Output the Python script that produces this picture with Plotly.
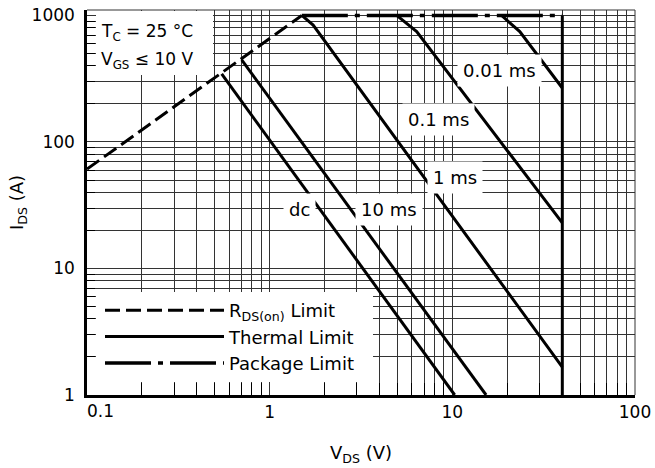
import plotly.graph_objects as go

# ---------------- data ----------------
rds_v = [0.1, 1.5]
rds_i = [61, 1000]

pkg_v = [1.5, 40]
pkg_i = [1000, 1000]

dc_v = [0.546, 10.3]
dc_i = [345, 1]

ms10_v = [0.703, 15.3]
ms10_i = [445, 1]

ms1_v = [1.5, 1.73, 40]
ms1_i = [1000, 840, 1.66]

ms01_v = [4.96, 6.38, 40]
ms01_i = [1000, 745, 22.9]

ms001_v = [18.6, 23.4, 40]
ms001_i = [1000, 745, 267]

bv_v = [40, 40]
bv_i = [1000, 1]

x_tickvals = [0.1, 1, 10, 100]
x_ticktext = ["", "1", "10", "100"]   # "0.1" is placed as a separate label, shifted right
first_x_label = "0.1"
y_tickvals = [1, 10, 100, 1000]
y_ticktext = ["1", "10", "100", "1000"]
x_minor = [0.2, 0.3, 0.4, 0.5, 0.6, 0.7, 0.8, 0.9,
           2, 3, 4, 5, 6, 7, 8, 9,
           20, 30, 40, 50, 60, 70, 80, 90]
y_minor = [2, 3, 4, 5, 6, 7, 8, 9,
           20, 30, 40, 50, 60, 70, 80, 90,
           200, 300, 400, 500, 600, 700, 800, 900]

curve_labels = ["0.01 ms", "0.1 ms", "1 ms", "10 ms", "dc"]
legend_names = ["R<sub>DS(on)</sub> Limit", "Thermal Limit", "Package Limit"]

# ---------------- layout helpers ----------------
W, H = 655, 468
L, R, T, B = 87, 635, 10, 395
FONT = "DejaVu Sans, Verdana, sans-serif"


def pxx(x):
    return (x - L) / (R - L)


def pxy(y):
    return (B - y) / (B - T)


LW = 3
fig = go.Figure()

fig.add_trace(go.Scatter(x=rds_v, y=rds_i, mode="lines", name=legend_names[0],
                         line=dict(color="black", width=LW, dash="15px,6px"),
                         legendrank=1))
thermal = [(dc_v, dc_i), (ms10_v, ms10_i), (ms1_v, ms1_i), (ms01_v, ms01_i),
           (ms001_v, ms001_i), (bv_v, bv_i)]
for k, (xv, yv) in enumerate(thermal):
    fig.add_trace(go.Scatter(x=xv, y=yv, mode="lines", name=legend_names[1],
                             line=dict(color="black", width=LW),
                             showlegend=(k == 0), legendrank=2))
fig.add_trace(go.Scatter(x=pkg_v, y=pkg_i, mode="lines", name=legend_names[2],
                         line=dict(color="black", width=LW + 0.5, dash="46px,7px,5px,7px"),
                         legendrank=3))

grid = "#333333"
fig.update_xaxes(type="log", range=[-1, 2], tickvals=x_tickvals, ticktext=x_ticktext,
                 showgrid=True, gridcolor=grid, gridwidth=1,
                 ticks="", showline=True, linecolor="black", linewidth=2.5,
                 minor=dict(tickvals=x_minor, ticks="inside", ticklen=12, tickcolor="black",
                            tickwidth=1, showgrid=True, gridcolor=grid, gridwidth=1),
                 tickfont=dict(family=FONT, size=17, color="black"),
                 title=dict(text="V<sub>DS</sub> (V)", font=dict(family=FONT, size=18, color="black"),
                            standoff=26),
                 zeroline=False)
fig.update_yaxes(type="log", range=[0, 3.043], tickvals=y_tickvals, ticktext=y_ticktext,
                 showgrid=True, gridcolor=grid, gridwidth=1,
                 ticks="", showline=True, linecolor="black", linewidth=2.5,
                 ticklabelstandoff=6,
                 minor=dict(tickvals=y_minor, ticks="inside", ticklen=8, tickcolor="black",
                            tickwidth=1, showgrid=True, gridcolor=grid, gridwidth=1),
                 tickfont=dict(family=FONT, size=17, color="black"),
                 title=dict(text="I<sub>DS</sub> (A)", font=dict(family=FONT, size=18, color="black"),
                            standoff=4),
                 zeroline=False)

shapes = [
    # top and right frame
    dict(type="line", xref="paper", yref="paper", x0=0, x1=1, y0=1, y1=1,
         line=dict(color=grid, width=1)),
    dict(type="line", xref="paper", yref="paper", x0=1, x1=1, y0=0, y1=1,
         line=dict(color=grid, width=1)),
    # white box behind the conditions text
    dict(type="rect", xref="paper", yref="paper", x0=pxx(96), x1=pxx(213), y0=pxy(75), y1=pxy(11),
         fillcolor="white", line=dict(width=0), layer="above"),
    # white box behind the legend
    dict(type="rect", xref="paper", yref="paper", x0=pxx(96), x1=pxx(373), y0=pxy(382), y1=pxy(292),
         fillcolor="white", line=dict(width=0), layer="above"),
]

annotations = [
    dict(text="T<sub>C</sub> = 25 °C", x=pxx(99), y=pxy(32), xref="paper", yref="paper",
         xanchor="left", yanchor="middle", showarrow=False,
         font=dict(family=FONT, size=17, color="black")),
    dict(text="V<sub>GS</sub> ≤ 10 V", x=pxx(99), y=pxy(60), xref="paper", yref="paper",
         xanchor="left", yanchor="middle", showarrow=False,
         font=dict(family=FONT, size=17, color="black")),
    dict(text=first_x_label, x=pxx(100.5), y=pxy(411), xref="paper", yref="paper",
         xanchor="center", yanchor="middle", showarrow=False,
         font=dict(family=FONT, size=17, color="black")),
]
label_pos = [(499, 70), (438.5, 119.5), (455, 177.5), (388.5, 209.5), (299, 210)]
for txt, (cx, cy) in zip(curve_labels, label_pos):
    annotations.append(dict(text=txt, x=pxx(cx), y=pxy(cy), xref="paper", yref="paper",
                            xanchor="center", yanchor="middle", showarrow=False,
                            bgcolor="white", borderpad=5,
                            font=dict(family=FONT, size=18, color="black")))

fig.update_layout(
    width=W, height=H,
    margin=dict(l=L, r=W - R, t=T, b=H - B, autoexpand=False),
    paper_bgcolor="white", plot_bgcolor="white",
    shapes=shapes, annotations=annotations,
    showlegend=True,
    legend=dict(x=pxx(100), y=pxy(292), xanchor="left", yanchor="top",
                bgcolor="rgba(0,0,0,0)", borderwidth=0, itemwidth=119,
                font=dict(family=FONT, size=18, color="black"),
                tracegroupgap=0),
)

fig.write_html(
    "out.html",
    config={"displayModeBar": False},
    post_script="document.body.style.margin='0';document.body.style.padding='0';"
                "document.documentElement.style.overflow='hidden';",
)
